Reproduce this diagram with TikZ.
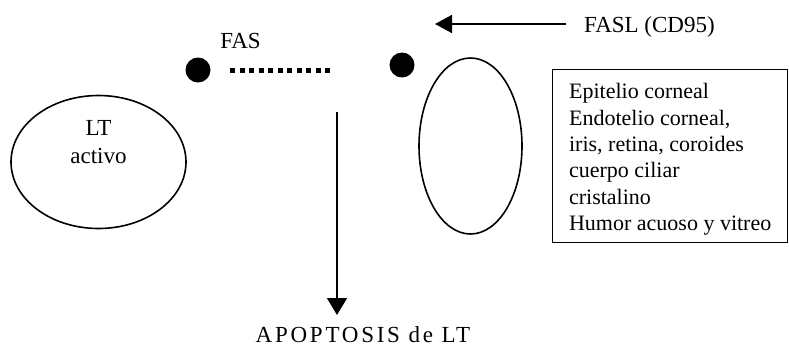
\documentclass[tikz,border=0pt]{standalone}
\usepackage{fontspec}
\setmainfont{Liberation Serif}
\usetikzlibrary{shapes.geometric,arrows.meta}
\begin{document}
\begin{tikzpicture}[x=1pt,y=-1pt,
  every node/.style={inner sep=0pt},
  txt/.style={font=\fontsize{23}{28}\selectfont},
  boxtxt/.style={font=\fontsize{22}{26.4}\selectfont},
  cell/.style={draw, ellipse, line width=1.6pt},
  dot/.style={circle, fill=black, minimum size=25pt},
  bond/.style={line width=5pt, dash pattern=on 5pt off 4.5pt},
  signal/.style={line width=1.6pt, -{Triangle[length=17pt,width=#1]}},
  signal/.default=18pt]
\useasboundingbox (0,0) rectangle (789,348);

% cells
\node[cell, minimum width=175pt, minimum height=133pt] (lt) at (98.5,162) {};
\node[txt, align=center, anchor=north] (lt-name) at (98.5,120) {LT\\activo};
\node[cell, minimum width=103pt, minimum height=176pt] (eye) at (470.5,146) {};

% receptor and ligand
\node[dot] (fas) at (198,70) {};
\node[dot] (fasl-dot) at (402,65) {};
\node[txt, anchor=base] (fas-label) at (240.5,48) {FAS};
\node[txt, anchor=base west] (fasl) at (584,32) {FASL (CD95)};

\coordinate (bond-end) at (332,70);
\draw[bond] ([xshift=19.5pt]fas.east) -- (bond-end);

% ligand origin arrow
\coordinate (fasl-tail) at (566,24);
\coordinate (fasl-tip) at (435,24);
\draw[signal] (fasl-tail) -- (fasl-tip);

% tissues expressing FASL
\node[draw, line width=1.4pt, anchor=north west, minimum width=235pt,
      minimum height=173pt, align=left, boxtxt] (tissues) at (552,69)
  {\rule{0pt}{21.8pt}Epitelio corneal\\
   Endotelio corneal,\\
   iris, retina, coroides\\
   cuerpo ciliar\\
   cristalino\\
   Humor acuoso y vitreo};

% outcome
\node[txt, anchor=base] (apo) at (363,342)
  {\addfontfeature{LetterSpace=12}APOPTOSIS de LT};
\coordinate (death-top) at (337,112);
\coordinate (death-tip) at (337,315);
\draw[signal=20pt] (death-top) -- (death-tip);
\end{tikzpicture}
\end{document}
